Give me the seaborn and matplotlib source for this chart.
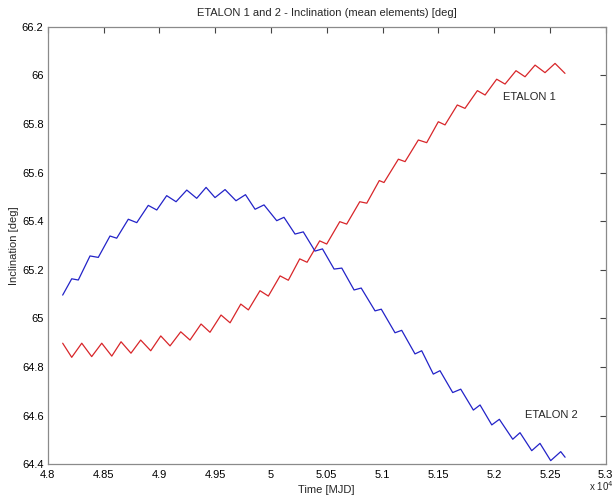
import matplotlib
matplotlib.use("Agg")
import matplotlib.pyplot as plt
import seaborn as sns
import pandas as pd
import numpy as np

# ---- data (MJD, inclination deg) ----
etalon1_mjd = [48134, 48215, 48305, 48394, 48484, 48574, 48657, 48746, 48833, 48923,
               49013, 49096, 49192, 49275, 49374, 49454, 49553, 49634, 49730, 49798,
               49902, 49977, 50082, 50156, 50258, 50324, 50437, 50500, 50617, 50679,
               50796, 50859, 50971, 51013, 51142, 51202, 51321, 51396, 51500, 51560,
               51670, 51739, 51850, 51919, 52023, 52098, 52196, 52277, 52367, 52456,
               52546, 52635]
etalon1_inc = [64.898, 64.840, 64.898, 64.843, 64.898, 64.845, 64.904, 64.857, 64.911, 64.867,
               64.928, 64.887, 64.945, 64.911, 64.977, 64.943, 65.014, 64.982, 65.059, 65.035,
               65.114, 65.092, 65.175, 65.157, 65.245, 65.231, 65.319, 65.306, 65.398, 65.388,
               65.480, 65.474, 65.567, 65.559, 65.655, 65.645, 65.734, 65.723, 65.809, 65.796,
               65.878, 65.864, 65.937, 65.919, 65.984, 65.964, 66.019, 65.994, 66.042, 66.011,
               66.049, 66.008]

etalon2_mjd = [48134, 48215, 48274, 48379, 48453, 48558, 48618, 48722, 48798, 48901,
               48977, 49066, 49150, 49246, 49335, 49419, 49499, 49589, 49687, 49772,
               49858, 49938, 50052, 50117, 50216, 50290, 50395, 50462, 50566, 50635,
               50745, 50809, 50933, 50989, 51112, 51172, 51291, 51351, 51455, 51515,
               51629, 51701, 51814, 51874, 51979, 52047, 52167, 52232, 52337, 52411,
               52507, 52597, 52636]
etalon2_inc = [65.096, 65.163, 65.158, 65.257, 65.251, 65.339, 65.330, 65.408, 65.394, 65.465,
               65.446, 65.505, 65.480, 65.528, 65.494, 65.539, 65.497, 65.530, 65.484, 65.509,
               65.449, 65.467, 65.402, 65.416, 65.347, 65.356, 65.277, 65.286, 65.203, 65.207,
               65.117, 65.125, 65.031, 65.038, 64.941, 64.951, 64.854, 64.867, 64.771, 64.785,
               64.695, 64.709, 64.623, 64.644, 64.562, 64.585, 64.503, 64.530, 64.456, 64.486,
               64.415, 64.452, 64.429]

series_names = ["ETALON 1", "ETALON 2"]
x_ticks = [48000, 48500, 49000, 49500, 50000, 50500, 51000, 51500, 52000, 52500, 53000]
y_ticks = [64.4, 64.6, 64.8, 65.0, 65.2, 65.4, 65.6, 65.8, 66.0, 66.2]

df = pd.concat([
    pd.DataFrame({"mjd": etalon1_mjd, "inc": etalon1_inc, "sat": series_names[0]}),
    pd.DataFrame({"mjd": etalon2_mjd, "inc": etalon2_inc, "sat": series_names[1]}),
], ignore_index=True)

sns.set_style("white")
plt.rcParams["font.family"] = ["Liberation Sans", "DejaVu Sans"]

fig = plt.figure(figsize=(6.15, 4.98), dpi=100)
ax = fig.add_axes([0.0776, 0.0677, 0.9073, 0.8787])

sns.lineplot(data=df, x="mjd", y="inc", hue="sat", sort=False, estimator=None,
             palette={"ETALON 1": "#d8262a", "ETALON 2": "#2323c8"},
             linewidth=0.9, legend=False, ax=ax)
for ln in ax.get_lines():
    ln.set_solid_joinstyle("round")

ax.set_xlim(48000, 53000)
ax.set_ylim(64.4, 66.2)
ax.set_xticks(x_ticks)
ax.set_xticklabels([f"{v/1e4:g}" for v in x_ticks])
ax.set_yticks(y_ticks)
ax.set_yticklabels([f"{v:g}" for v in y_ticks])

ax.tick_params(direction="in", top=True, right=True, length=4, width=0.8,
               color="#444444", labelsize=8, labelcolor="black")
ax.tick_params(axis="x", pad=4)
ax.tick_params(axis="y", pad=3)
for s in ax.spines.values():
    s.set_color("#8a8a8a")
    s.set_linewidth(0.9)

ax.set_title("ETALON 1 and 2 - Inclination (mean elements) [deg]", fontsize=8, pad=8)
ax.set_xlabel("Time [MJD]", fontsize=8, labelpad=4)
ax.set_ylabel("Inclination [deg]", fontsize=8, labelpad=2)

ax.text(52080, 65.911, "ETALON 1", fontsize=8, va="center", ha="left")
ax.text(52280, 64.603, "ETALON 2", fontsize=8, va="center", ha="left")
fig.text(0.957, 0.010, "x 10$^4$", fontsize=7, ha="left", va="bottom")

fig.savefig("out.png", dpi=100)
